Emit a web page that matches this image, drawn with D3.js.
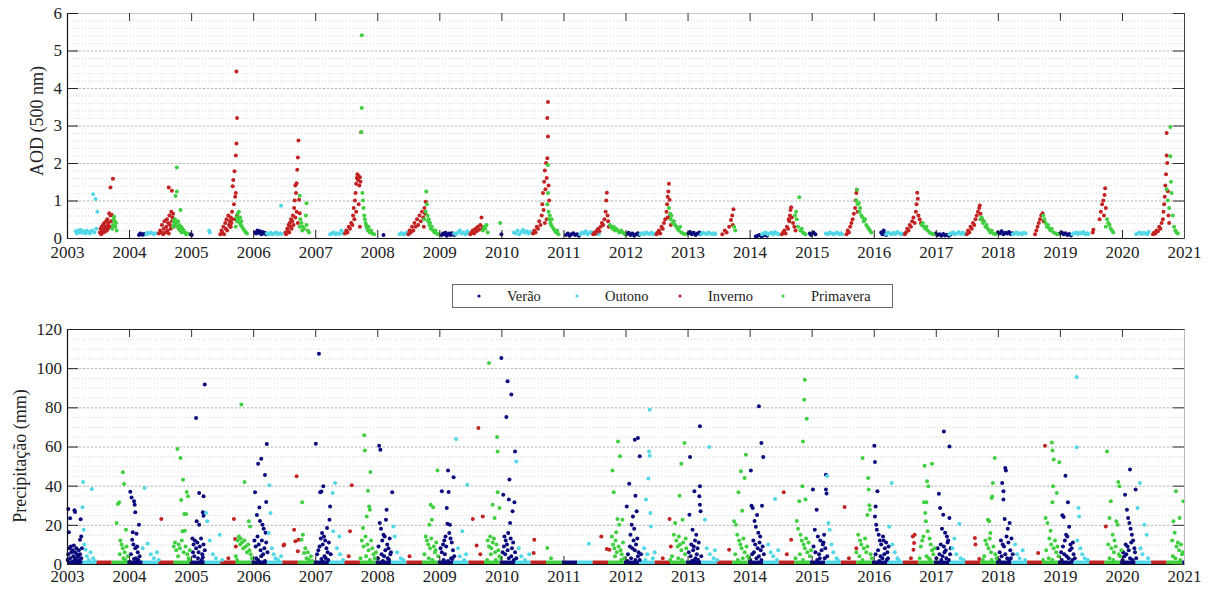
<!DOCTYPE html>
<html><head><meta charset="utf-8">
<script src="https://cdn.jsdelivr.net/npm/d3@7"></script>
<style>
body{margin:0;background:#fff}
svg{display:block}
text{font-family:"Liberation Serif","Times New Roman",Times,"DejaVu Serif",serif;fill:#222}
</style>
</head><body>
<svg id="c" width="1210" height="590"></svg>
<script>
// ---------------- DATA ----------------
const seasons = ["Verão", "Outono", "Inverno", "Primavera"];
const seasonColors = ["#0a0a7c", "#52d8e6", "#c22222", "#3fcf3f"];
const yearTicks = [2003,2004,2005,2006,2007,2008,2009,2010,2011,2012,2013,2014,2015,2016,2017,2018,2019,2020,2021];
const aodTicks = [0,1,2,3,4,5,6];
const precTicks = [0,20,40,60,80,100,120];

// AOD (500 nm): [year, [fraction, value, ...]]
const aodVerao = [
 [2004,[.16,.08,.18,.12,.2,.1,.22,.09,.24,.11,.99,.1]],
 [2005,[.01,.08]],
 [2006,[.03,.15,.05,.12,.07,.2,.09,.14,.11,.18,.13,.1,.15,.16,.17,.12,.19,.14,.21,.1]],
 [2008,[.1,.08]],
 [2009,[.04,.08,.06,.12,.08,.1,.1,.14,.12,.06,.14,.1,.16,.12,.18,.08,.2,.13,.22,.1,.24,.08]],
 [2010,[0,.1]],
 [2011,[.04,.08,.07,.12,.1,.06,.13,.1,.16,.13,.19,.08,.22,.1,.25,.06]],
 [2012,[.02,.1,.05,.14,.08,.08,.11,.12,.14,.06,.17,.1,.2,.13,.22,.08]],
 [2013,[.01,.12,.04,.16,.07,.1,.1,.14,.13,.08,.16,.12,.19,.15,.21,.1]],
 [2014,[.1,.04,.13,.06,.16,.08,.19,.05,.22,.07,.25,.1,.28,.06,.97,.12,.99,.08]],
 [2015,[.03,.15,.06,.1]],
 [2016,[.12,.15,.14,.1,.16,.2,.18,.12,.2,.08]],
 [2017,[0,.12,.03,.08,.06,.1,.09,.06,.12,.11,.15,.07,.18,.09,.21,.06,.24,.1]],
 [2018,[0,.15,.03,.12,.06,.18,.09,.1,.12,.14,.15,.12,.18,.16,.21,.1,.23,.13]],
 [2019,[0,.12,.03,.15,.06,.1,.09,.13,.12,.08,.15,.11,.18,.07]]
];
const aodOutono = [
 [2003,[.14,.18,.16,.12,.18,.2,.2,.15,.22,.22,.25,.14,.27,.18,.3,.12,.32,.2,.35,.16,.37,.12,.4,.2,.42,1.17,.46,1.04,.49,.7,.44,.15,.47,.25]],
 [2004,[.28,.1,.3,.14,.33,.12,.36,.15,.4,.1,.43,.13]],
 [2005,[.29,.2,.3,.15]],
 [2006,[.22,.12,.25,.1,.28,.14,.31,.1,.34,.12,.37,.15,.4,.1,.43,.13,.45,.86,.46,.11]],
 [2007,[.24,.1,.27,.12,.3,.15,.33,.1,.36,.13,.39,.11,.42,.2,.45,.12,.48,.14]],
 [2008,[.36,.1,.39,.13,.42,.1,.45,.12,.48,.15,.51,.1]],
 [2009,[.24,.12,.27,.1,.3,.15,.33,.2,.36,.12,.39,.15,.42,.1,.45,.18,.47,.13]],
 [2010,[.2,.15,.23,.12,.26,.2,.29,.1,.32,.16,.35,.22,.38,.14,.41,.18,.44,.12,.47,.16]],
 [2011,[.27,.1,.3,.15,.33,.12,.36,.18,.39,.1,.42,.14,.45,.16,.48,.12,.51,.1,.54,.13,.57,.11]],
 [2012,[.24,.1,.27,.13,.3,.1,.33,.15,.36,.12,.39,.11,.42,.14,.45,.1,.48,.12]],
 [2013,[.22,.1,.25,.14,.28,.12,.31,.1,.34,.15,.37,.12,.4,.1,.43,.13,.45,.11]],
 [2014,[.2,.1,.23,.13,.26,.15,.29,.1,.32,.12,.35,.14,.38,.1,.41,.16,.44,.12,.47,.1]],
 [2015,[.23,.12,.26,.1,.29,.15,.32,.13,.35,.1,.38,.12,.41,.15,.44,.11,.47,.13,.49,.1]],
 [2016,[.2,.1,.23,.15,.26,.12,.29,.1,.32,.14,.35,.11,.38,.16,.41,.13,.44,.1,.46,.12]],
 [2017,[.22,.1,.25,.13,.28,.15,.31,.1,.34,.12,.37,.16,.4,.11,.43,.14,.46,.1,.48,.13]],
 [2018,[.24,.1,.27,.12,.3,.15,.33,.11,.36,.13,.39,.1,.42,.14,.45,.12]],
 [2019,[.2,.1,.23,.13,.26,.15,.29,.11,.32,.14,.35,.12,.38,.16,.41,.1,.44,.13,.46,.11]],
 [2020,[.23,.1,.26,.13,.29,.15,.32,.11,.35,.14,.38,.12,.41,.1,.43,.16]]
];
const aodInverno = [
 [2003,[.53,.15,.54,.25,.55,.1,.56,.3,.57,.2,.58,.35,.59,.15,.6,.4,.61,.25,.62,.3,.63,.45,.64,.2,.65,.5,.66,.35,.67,.4,.68,.66,.69,.3,.7,.6,.71,.45,.72,.62,.7,1.35,.74,1.58,.66,.25,.62,.18]],
 [2004,[.48,.12,.5,.2,.52,.15,.53,.35,.55,.1,.56,.25,.57,.45,.58,.15,.6,.3,.61,.5,.62,.2,.63,.4,.64,.12,.65,.6,.66,.35,.67,.25,.68,.7,.69,.45,.7,.55,.64,1.35,.69,1.26,.71,.65,.72,.3]],
 [2005,[.47,.1,.49,.2,.5,.15,.52,.3,.53,.1,.55,.4,.56,.25,.57,.5,.58,.2,.6,.6,.61,.35,.62,.45,.63,.3,.64,.55,.65,.4,.66,.7,.67,1.38,.68,1.55,.69,.9,.7,1.78,.71,1.1,.72,2.2,.73,2.52,.73,4.44,.74,3.2,.72,1.2,.74,.6,.71,.5,.66,.5,.64,.3]],
 [2006,[.52,.15,.53,.1,.55,.25,.56,.2,.57,.35,.58,.15,.59,.4,.6,.3,.61,.5,.62,.25,.63,.45,.64,.6,.65,.35,.66,.8,.67,1.0,.68,.55,.69,1.2,.7,1.46,.71,1.82,.72,2.15,.73,2.6,.7,.7,.72,.4,.74,1.02,.75,.66,.68,1.4]],
 [2007,[.48,.12,.5,.2,.52,.15,.54,.3,.56,.25,.58,.4,.6,.35,.61,.6,.62,.8,.63,.5,.64,1.0,.65,1.2,.66,1.45,.67,1.6,.68,1.7,.69,1.55,.7,1.65,.71,1.4,.72,1.62,.73,1.5,.74,2.82,.66,.7,.7,.9,.72,.3]],
 [2008,[.5,.1,.52,.2,.54,.15,.56,.3,.58,.2,.6,.4,.62,.3,.64,.5,.66,.35,.68,.6,.7,.45,.72,.7,.74,.55,.76,.8,.78,.97,.77,.65,.75,.3]],
 [2009,[.5,.1,.52,.15,.54,.2,.56,.12,.58,.25,.6,.18,.62,.3,.64,.22,.66,.35,.68,.55,.69,.25,.7,.3]],
 [2010,[.51,.12,.53,.2,.55,.15,.57,.3,.59,.25,.61,.45,.63,.35,.65,.6,.66,.9,.67,1.2,.68,.75,.69,1.5,.7,1.8,.71,1.3,.72,2.0,.73,1.6,.74,2.13,.75,2.71,.74,3.2,.75,3.63,.76,1.4,.77,1.0,.73,.5,.7,.4]],
 [2011,[.48,.1,.5,.15,.52,.12,.54,.2,.56,.25,.58,.18,.6,.3,.62,.4,.64,.35,.66,.5,.68,.7,.69,1.0,.7,1.21,.71,.6,.72,.45,.73,.3]],
 [2012,[.5,.1,.52,.15,.54,.2,.56,.12,.58,.3,.6,.25,.62,.4,.64,.5,.66,.7,.67,.9,.68,1.1,.69,1.24,.7,1.45,.71,1.02,.72,.6,.73,.35,.68,.55]],
 [2013,[.56,.1,.6,.2,.63,.15,.67,.3,.7,.48,.72,.6,.74,.77,.73,.35]],
 [2014,[.52,.1,.54,.15,.56,.2,.58,.12,.6,.3,.62,.25,.64,.45,.65,.6,.66,.75,.67,.82,.68,.55,.7,.4,.72,.3,.74,.2,.63,.5]],
 [2015,[.56,.1,.58,.2,.6,.15,.62,.3,.64,.4,.66,.5,.68,.65,.7,.8,.71,1.0,.72,1.2,.73,1.29,.74,.7]],
 [2016,[.5,.1,.52,.15,.54,.25,.56,.2,.58,.35,.6,.3,.62,.45,.64,.55,.66,.4,.68,.7,.69,.9,.7,1.21,.71,1.05,.72,.6,.74,.5,.76,.4]],
 [2017,[.5,.1,.52,.2,.54,.15,.56,.3,.58,.25,.6,.4,.62,.35,.64,.5,.66,.6,.68,.7,.7,.8,.71,.87,.72,.65,.74,.5]],
 [2018,[.6,.1,.62,.2,.64,.3,.66,.4,.68,.5,.7,.6,.72,.66,.74,.45]],
 [2019,[.53,.15,.54,.22,.64,.5,.66,.7,.68,.9,.7,1.0,.71,.6,.72,1.15,.73,1.33,.74,.8]],
 [2020,[.5,.1,.52,.15,.54,.12,.56,.2,.58,.18,.6,.3,.62,.25,.64,.4,.66,.5,.67,.7,.68,.9,.69,1.1,.7,1.4,.71,1.7,.72,2.2,.72,2.8,.73,2.0,.74,1.25,.75,.6,.76,.4]]
];
const aodPrimavera = [
 [2003,[.73,.25,.74,.35,.75,.5,.76,.57,.77,.45,.78,.3,.79,.4,.8,.2]],
 [2004,[.71,.3,.72,.45,.73,.35,.74,.5,.75,1.12,.76,.4,.77,1.88,.77,1.24,.78,.3,.79,.45,.8,.25,.81,.35,.82,.2,.83,.75,.84,.3,.85,.15,.86,.25,.88,.2,.9,.15,.92,.1,.94,.12]],
 [2005,[.72,.3,.73,.55,.74,.45,.75,.65,.76,.5,.77,.7,.78,.4,.79,.55,.8,.35,.81,.45,.82,.3,.84,.25,.86,.2,.88,.15,.9,.12]],
 [2006,[.75,.3,.76,.5,.75,1.13,.78,.4,.79,.2,.8,.3,.82,.25,.86,.93,.85,.6,.86,.35,.88,.2,.9,.15]],
 [2007,[.75,5.41,.75,3.47,.74,2.82,.76,1.2,.77,1.0,.78,.8,.79,.6,.8,.5,.81,.4,.82,.35,.83,.3,.84,.25,.85,.2,.86,.3,.88,.15,.9,.2,.92,.12,.95,.1]],
 [2008,[.76,.5,.78,.7,.79,1.24,.8,.9,.81,.6,.82,.45,.83,.5,.84,.35,.85,.4,.86,.25,.88,.3,.9,.2,.92,.15,.94,.2,.96,.12,.98,.1]],
 [2009,[.7,.2,.72,.3,.74,.25,.76,.35,.78,.15,.98,.4]],
 [2010,[.74,.9,.75,1.2,.75,1.95,.76,.7,.77,.5,.78,.6,.79,.4,.8,.35,.81,.5,.82,.3,.84,.25,.86,.2,.88,.15,.9,.2,.92,.1]],
 [2011,[.75,.35,.77,.3,.79,.25,.81,.3,.83,.2,.85,.25,.87,.2,.9,.15,.93,.2,.96,.15,.99,.1]],
 [2012,[.7,.8,.72,.65,.73,.5,.74,.6,.76,.4,.78,.45,.8,.35,.82,.3,.84,.25,.86,.2,.88,.3,.9,.15,.93,.12,.96,.1]],
 [2013,[.75,.3,.77,.2]],
 [2014,[.73,.6,.75,.7,.76,.5,.78,.3,.8,1.09,.82,.2,.84,.25,.86,.15,.88,.12,.9,.1]],
 [2015,[.72,1.0,.73,1.29,.74,.9,.76,.93,.77,.7,.78,.8,.8,.6,.82,.55,.84,.45,.86,.5,.88,.35,.9,.3,.92,.25,.94,.2,.96,.15]],
 [2016,[.77,.35,.79,.4,.81,.3,.83,.25,.85,.3,.87,.2,.9,.15,.93,.12,.96,.1]],
 [2017,[.72,.5,.74,.55,.76,.4,.78,.45,.8,.3,.82,.35,.84,.25,.86,.2,.88,.15,.9,.2,.93,.12,.96,.1]],
 [2018,[.73,.6,.75,.5,.77,.4,.79,.3,.81,.35,.83,.25,.85,.2,.87,.25,.9,.15,.93,.12,.96,.1]],
 [2019,[.74,.3,.76,.5,.78,.4,.8,.35,.82,.25,.84,.2,.86,.15]],
 [2020,[.72,1.3,.74,1.0,.76,.8,.78,2.96,.78,2.18,.79,1.5,.8,1.2,.82,.6,.84,.3,.86,.2,.88,.15,.9,.12]]
];

// Precipitação (mm): [year, [fraction, value, ...]]
const precVerao = [
 [2003,[.02,28.1,.03,16.2,.05,23.3,.12,27.5,.13,26.5,.22,22.8,.23,14.1,.21,12.4,.24,8,.01,2,.02,5,.04,8,.05,3,.06,9,.07,6,.08,1,.09,7,.1,4,.11,9.5,.12,2,.13,6,.14,3,.15,8,.16,5,.17,1.5,.18,4,.19,7,.2,2,.21,5,.22,1,.23,3]],
 [2004,[.02,36.9,.04,34,.08,32,.09,30.3,.1,26.4,.16,20,.06,16.2,.12,15.5,.05,12.4,.07,10,.1,8,.13,9,.03,5,.11,3,.14,6,.15,2,.17,4,.01,1,.08,2.5,.12,1]],
 [2005,[.08,74.6,.22,91.6,.13,36.3,.2,34.6,.19,26.4,.2,24.7,.13,20,.09,21.8,.02,13,.04,10,.06,12,.08,8,.1,11,.12,6,.14,9,.16,13,.18,5,.2,10,.22,7,.05,4,.11,3,.17,2,.15,1,.03,6,.19,3.5]],
 [2006,[.22,61.3,.13,53.8,.08,51.2,.19,45.4,.03,36.6,.1,28.9,.21,31.7,.06,25,.11,22,.15,20,.17,18,.2,16,.02,12,.04,9,.07,14,.09,10,.12,7,.14,12,.16,5,.18,8,.21,11,.05,3,.08,2,.13,4,.19,1.5,.23,6,.1,1]],
 [2007,[.06,107.4,.01,61.4,.13,39.7,.08,36.6,.1,37,.24,29.4,.23,22.6,.19,18.4,.11,15.8,.14,14,.09,13,.16,12,.12,10,.07,9,.18,8,.2,6,.22,11,.03,5,.05,7,.15,4,.17,3,.21,2,.13,1,.25,5,.1,2.5]],
 [2008,[.03,60.4,.05,58.4,.24,36.6,.15,27.7,.14,22.6,.04,20.9,.06,18,.1,15,.08,12,.12,14,.16,10,.18,8,.2,13,.22,6,.02,9,.07,5,.11,4,.13,7,.17,3,.19,2,.21,5,.09,1.5,.01,3]],
 [2009,[.14,47.7,.23,44.3,.04,37.1,.15,36.8,.12,28.6,.13,20.6,.17,20,.16,15.8,.1,14,.08,12,.2,11,.06,10,.18,13,.02,8,.04,6,.09,5,.11,9,.19,3,.22,7,.24,4,.07,2,.14,1.5,.21,2.5]],
 [2010,[0,105.2,.1,93.3,.16,86.5,.08,75.1,.22,57.5,.13,43.1,.03,35.4,.12,32.9,.21,31.5,.18,26.9,.14,20.9,.11,15.8,.05,14,.07,12,.09,10,.15,13,.17,8,.19,11,.02,6,.04,9,.06,5,.1,7,.12,3,.16,4,.2,2,.22,6,.24,3]],
 [2012,[.15,63.5,.2,64.3,.23,55,.06,41,.16,34.9,.02,29.4,.18,26.9,.12,24.3,.1,20,.14,18,.08,15,.13,12,.17,10,.11,8,.19,13,.21,6,.04,5,.07,9,.09,3,.15,7,.2,4,.23,2,.03,1.5,.16,2,.25,5]],
 [2013,[.2,70.3,.04,54.6,.11,37.1,.2,39.7,.19,34.6,.2,30.3,.21,26.9,.03,25.2,.08,17.5,.14,15,.12,12,.06,10,.1,9,.16,8,.18,11,.02,6,.05,4,.09,7,.13,3,.15,5,.17,2,.22,4,.07,1.5,.11,2]],
 [2014,[.15,80.5,.19,61.8,.22,54.6,.02,47.8,.03,29.8,.2,29.8,.05,28.6,.12,25,.08,22,.1,19,.14,16,.17,14,.06,12,.09,10,.13,8,.16,11,.18,7,.21,9,.04,5,.07,6,.11,3,.15,4,.19,2,.23,5,.01,2]],
 [2015,[.23,45.6,.23,38,.02,38,.24,36,.08,27.7,.05,17.5,.1,14,.14,12,.18,10,.2,15,.22,8,.03,9,.06,6,.12,5,.16,7,.21,3,.25,4,.09,2,.13,3,.19,11]],
 [2016,[.01,60.4,.02,52.1,.06,37.1,.03,29.4,.02,24.3,.04,20,.05,17.5,.08,15,.1,12,.12,10,.15,14,.18,8,.2,11,.22,6,.24,9,.03,5,.07,7,.11,4,.14,3,.17,5,.21,2,.09,1.5,.23,3,.16,12]],
 [2017,[.13,67.7,.22,60,.05,35.9,.07,28.6,.12,25.2,.22,23.5,.1,18,.15,16,.18,14,.2,12,.08,10,.13,9,.16,7,.19,11,.03,8,.06,5,.11,4,.14,6,.17,3,.21,2,.23,5,.01,3,.09,2,.24,8]],
 [2018,[.12,49,.13,47.7,.07,41.4,.09,37.1,.09,32.9,.11,23,.19,20.9,.16,18,.14,14,.05,12,.08,10,.1,9,.17,11,.2,7,.22,13,.03,6,.06,4,.12,5,.15,3,.18,2,.24,5,.02,2,.21,3]],
 [2019,[.09,45.1,.04,24.9,.06,24,.13,31.5,.15,19,.1,15,.08,12,.12,14,.17,10,.19,8,.21,11,.02,6,.05,9,.07,5,.11,4,.14,3,.16,7,.2,2,.22,5,.24,3,.03,2]],
 [2020,[.13,48.2,.22,38,.05,35.4,.08,27.7,.1,23.5,.12,21,.14,18,.16,15,.18,12,.06,10,.09,9,.11,7,.15,11,.2,8,.02,6,.04,4,.07,5,.13,3,.17,2,.21,6,.23,3,.01,2]]
];
const precOutono = [
 [2003,[.25,29,.26,41.9,.27,17.5,.28,10,.3,7.3,.32,4,.35,2,.38,6,.4,38.3,.42,3,.45,1.5]],
 [2004,[.25,38.8,.22,8,.3,10.4,.35,5,.4,3,.45,6,.48,2]],
 [2005,[.24,26,.26,21.8,.3,12,.35,5,.4,3,.46,15,.5,2]],
 [2006,[.26,40.2,.28,26,.25,15.8,.3,8,.33,5,.36,3,.4,2,.45,4]],
 [2007,[.32,41.4,.28,36.3,.29,16.7,.39,14,.35,8,.4,5,.45,2]],
 [2008,[.26,19.2,.28,14,.32,6,.38,3,.42,2]],
 [2009,[.27,63.8,.45,40.5,.37,16.7,.3,8,.33,4,.4,2,.43,5]],
 [2010,[.24,52.4,.28,8,.32,4,.38,2,.45,5]],
 [2011,[.41,10.4]],
 [2012,[.39,78.8,.38,57.5,.39,55.3,.37,43.6,.33,32.9,.41,19.2,.4,26,.3,8,.35,5,.44,3,.47,6,.32,2]],
 [2013,[.35,59.7,.28,22.6,.31,8,.36,5,.42,3,.48,2,.44,7]],
 [2014,[.41,33.2,.3,10,.34,6,.38,4,.44,2,.46,7]],
 [2015,[.25,45,.27,20.9,.29,17.5,.32,10,.35,6,.4,3,.42,2]],
 [2016,[.29,41.4,.25,19,.3,10,.34,6,.38,3,.4,2]],
 [2017,[.38,20.6,.3,13,.27,8,.33,5,.4,3,.45,2]],
 [2018,[.28,10,.31,5,.35,3,.4,7,.44,2]],
 [2019,[.27,95.5,.27,59.6,.3,28.6,.31,24.3,.28,12,.33,8,.36,5,.4,3,.45,2]],
 [2020,[.29,41.4,.25,28.6,.36,20,.4,15,.3,8,.33,5,.42,3]]
];
const precInverno = [
 [2004,[.52,23]],
 [2005,[.69,23,.71,12.8,.72,9,.6,3]],
 [2006,[.7,44.8,.66,17.5,.68,11.6,.5,9.9,.49,9.4,.72,6.5,.73,12.4]],
 [2007,[.59,40.2,.56,16.7,.54,4]],
 [2008,[.52,4]],
 [2009,[.63,69.4,.54,23,.7,24.3,.6,9.4,.66,5]],
 [2010,[.53,12.4,.52,5.6]],
 [2011,[.61,14.1,.7,7.7,.74,7.3]],
 [2012,[.71,23,.73,9,.6,3]],
 [2013,[.67,7.3]],
 [2014,[.55,36.6,.67,12.4,.6,5]],
 [2015,[.53,29.1,.72,8,.6,3]],
 [2016,[.63,14,.66,15,.65,10.7,.64,7.3,.6,3]],
 [2017,[.63,13.3,.64,9.9,.7,2.6]],
 [2018,[.65,5.6,.76,60.4]],
 [2019,[.74,19.2]]
];
const precPrimavera = [
 [2003,[.82,30.6,.84,31.5,.8,20.9,.9,46.8,.92,40.9,.95,17.5,.88,10,.86,12,.9,8,.93,6,.96,9,.98,4,.85,5,.91,3,.94,2]],
 [2004,[.78,58.7,.83,54.1,.87,43,.84,32.7,.93,36.8,.95,34.6,.89,25.5,.92,25.5,.86,16.7,.9,17,.72,9,.74,11,.76,7,.8,10,.82,8,.85,12,.88,6,.91,9,.94,5,.96,3,.98,7,.79,4,.97,2]],
 [2005,[.81,81.4,.86,41.9,.93,21.8,.95,19.2,.75,12,.77,14,.79,10,.8,13,.82,11,.84,8,.86,12,.88,9,.9,6,.92,10,.94,7,.96,5,.98,3,.72,4,.74,2]],
 [2006,[.79,31.5,.8,15,.78,12.4,.82,5.6,.84,8,.86,3,.88,6,.9,2,.93,4,.95,1.5]],
 [2007,[.79,65.7,.8,57.9,.89,47,.85,37.4,.87,29.4,.88,27.7,.83,24.3,.77,18.4,.75,12,.78,9,.81,14,.84,10,.86,7,.9,12,.92,8,.94,5,.96,3,.98,6,.82,4,.88,2,.73,3]],
 [2008,[.97,47.8,.86,30.3,.9,29,.88,22.6,.84,20,.78,14,.8,12,.82,10,.85,8,.87,13,.91,9,.93,6,.95,11,.98,4,.76,5,.83,3,.89,2,.94,7]],
 [2009,[.8,102.6,.93,64.9,.94,57.5,.94,36.6,.86,30.3,.97,28.6,.89,23.5,.78,12,.8,9,.82,14,.84,8,.86,11,.88,13,.9,6,.92,10,.95,7,.97,4,.99,3,.83,5,.91,2,.77,2]],
 [2010,[.74,8.2,.8,3]],
 [2011,[.88,62.6,.91,55,.79,47.8,.81,36.6,.87,23,.95,22.6,.9,20,.85,16.2,.78,14,.8,10,.82,8,.84,12,.86,6,.89,9,.92,7,.94,5,.96,11,.98,3,.83,4,.93,2]],
 [2012,[.95,61.8,.9,51.2,.87,34.9,.8,20.9,.92,22.6,.78,15,.82,12,.84,9,.86,14,.88,10,.9,7,.93,11,.96,5,.98,8,.75,4,.72,2,.85,3,.91,2,.97,13]],
 [2013,[.94,55.8,.92,43.9,.86,47.3,.82,36.6,.88,27.2,.75,21.8,.78,20,.8,15,.83,12,.85,10,.87,8,.9,13,.92,6,.95,9,.97,4,.99,3,.77,5,.81,2,.89,3]],
 [2014,[.89,94.1,.88,83.9,.92,74.2,.86,62.6,.85,39.7,.9,32.9,.8,32,.76,22,.78,18,.82,15,.84,12,.87,10,.89,8,.91,13,.93,6,.95,11,.97,4,.99,7,.74,3,.81,5,.86,2]],
 [2015,[.82,54.1,.91,43.9,.92,38,.93,30,.94,27.7,.9,25,.75,15,.78,12,.8,10,.84,8,.86,13,.88,6,.9,9,.95,5,.97,3,.77,4,.82,2,.72,6]],
 [2016,[.82,50.2,.94,51.2,.86,42.2,.88,39.7,.81,31.5,.85,31.5,.83,26,.84,21.8,.87,16.7,.9,13,.78,12,.8,14,.76,9,.92,10,.94,7,.96,5,.98,8,.85,4,.89,3,.91,2,.74,3]],
 [2017,[.95,54.1,.92,41.4,.9,33.7,.91,34.5,.84,22.6,.86,21.8,.88,15.8,.8,12,.82,10,.85,8,.87,13,.89,6,.93,9,.96,5,.98,3,.78,4,.9,2,.76,2]],
 [2018,[.87,62.1,.88,57.9,.9,53.3,.99,51.9,.89,39.7,.95,36.3,.88,31.5,.77,23.5,.8,21,.85,17,.83,13,.86,10,.9,8,.92,12,.94,6,.96,9,.98,4,.78,7,.82,3,.88,2,.73,2]],
 [2019,[.76,57.5,.94,41.9,.96,39.7,.82,32,.8,23.5,.91,21.8,.93,20,.85,15,.88,12,.78,10,.83,8,.87,6,.9,9,.95,5,.97,4,.99,7,.8,3,.86,2]],
 [2020,[.87,37.1,.99,32,.83,21.8,.93,23.5,.85,16,.81,12,.88,9,.9,11,.92,7,.95,10,.97,5,.82,4,.86,3,.94,2,.98,6]]
];
// dry days (0 mm) form a band along zero: fraction-of-year spans per season, and years with data
const drySpans = [[-0.03,0.22],[0.22,0.47],[0.47,0.72],[0.72,0.97]];
const dryYears = [2003,2004,2005,2006,2007,2008,2009,2010,2011,2012,2013,2014,2015,2016,2017,2018,2019,2020,2021];

// ---------------- DRAW ----------------
const FONT = '"Liberation Serif","Times New Roman",Times,"DejaVu Serif",serif';
function expand(arr){
  const out=[];
  arr.forEach(([yr,v])=>{ for(let i=0;i<v.length;i+=2) out.push([yr+v[i], v[i+1]]); });
  return out;
}
const svg = d3.select("#c");
const L=67, R=1184;
const x = d3.scaleLinear().domain([2003,2021]).range([L,R]);

function panel(o){
  const y = d3.scaleLinear().domain(o.domain).range([o.bottom,o.top]);
  const g = svg.append("g");
  g.selectAll(".mn").data(d3.range(o.domain[0], o.domain[1]+1e-9, o.minor)).join("line")
    .attr("x1",L).attr("x2",R).attr("y1",d=>y(d)+0.5).attr("y2",d=>y(d)+0.5)
    .attr("stroke","#d6d6d6").attr("stroke-width",1).attr("stroke-dasharray","1,2");
  g.selectAll(".mj").data(o.ticks).join("line")
    .attr("x1",L).attr("x2",R).attr("y1",d=>y(d)+0.5).attr("y2",d=>y(d)+0.5)
    .attr("stroke","#b8b8b8").attr("stroke-width",1).attr("stroke-dasharray","2,2");
  if(o.dry){
    o.series.forEach((s,si)=>{
      dryYears.forEach(yr=>{
        const a=Math.max(2003,yr+drySpans[si][0]), b=Math.min(2021,yr+drySpans[si][1]);
        if(b>a) g.append("line").attr("x1",x(a)).attr("x2",x(b))
          .attr("y1",y(0)-1.5).attr("y2",y(0)-1.5)
          .attr("stroke",seasonColors[si]).attr("stroke-width",4);
      });
    });
  }
  o.series.forEach((s,si)=>{
    g.append("g").selectAll("circle").data(expand(s)).join("circle")
      .attr("cx",d=>x(d[0])).attr("cy",d=>y(d[1])).attr("r",o.r)
      .attr("fill",seasonColors[si]);
  });
  const ax = g.append("g").attr("transform",`translate(0,${o.bottom})`)
    .call(d3.axisBottom(x).tickValues(yearTicks).tickFormat(d3.format("d")).tickSizeInner(-8).tickSizeOuter(0).tickPadding(o.xPad));
  const at = g.append("g").attr("transform",`translate(0,${o.top})`)
    .call(d3.axisTop(x).tickValues(yearTicks).tickFormat("").tickSizeInner(-8).tickSizeOuter(0));
  const al = g.append("g").attr("transform",`translate(${L},0)`)
    .call(d3.axisLeft(y).tickValues(o.ticks).tickFormat(d3.format("d")).tickSizeInner(-11).tickSizeOuter(0).tickPadding(5));
  const ar = g.append("g").attr("transform",`translate(${R},0)`)
    .call(d3.axisRight(y).tickValues(o.ticks).tickFormat("").tickSizeInner(-11).tickSizeOuter(0));
  [ax,al,at,ar].forEach(a=>a.attr("font-family",FONT));
  [ax,al].forEach(a=>{ a.select(".domain").attr("stroke","#111").attr("stroke-width",1.2);
    a.selectAll(".tick line").attr("stroke","#222");
    a.selectAll("text").style("font-family",FONT).style("font-size","17px").attr("fill","#222"); });
  at.select(".domain").attr("stroke",o.topLine).attr("stroke-width",1);
  at.selectAll(".tick line").attr("stroke","#333");
  ar.select(".domain").attr("stroke",o.rightLine).attr("stroke-width",1);
  ar.selectAll(".tick line").attr("stroke","#333");
  g.append("text").attr("transform",`translate(${o.labelX},${o.labelY}) rotate(-90)`)
    .attr("text-anchor","middle").attr("dy","0.35em").style("font-family",FONT).style("font-size","18px").text(o.label);
}

panel({domain:[0,6], ticks:aodTicks, minor:0.2, top:13, bottom:238, r:2,
  series:[aodVerao,aodOutono,aodInverno,aodPrimavera], label:"AOD (500 nm)", labelX:37, labelY:121,
  topLine:"#c8c8c8", rightLine:"#444", dry:false, xPad:8});
panel({domain:[0,120], ticks:precTicks, minor:5, top:329, bottom:564, r:2,
  series:[precVerao,precOutono,precInverno,precPrimavera], label:"Precipitação (mm)", labelX:20, labelY:456,
  topLine:"#222", rightLine:"#bbb", dry:true, xPad:6});

const lg = svg.append("g");
const itemX = [479, 577, 680, 783];
lg.append("rect").attr("x",452.5).attr("y",284.5).attr("width",440).attr("height",23)
  .attr("fill","#fff").attr("stroke","#666").attr("stroke-width",1);
seasons.forEach((s,i)=>{
  lg.append("circle").attr("cx",itemX[i]).attr("cy",296).attr("r",1.6).attr("fill",seasonColors[i]);
  lg.append("text").attr("x",itemX[i]+28).attr("y",301).style("font-family",FONT).style("font-size","14.5px").text(s);
});
</script>
</body></html>
